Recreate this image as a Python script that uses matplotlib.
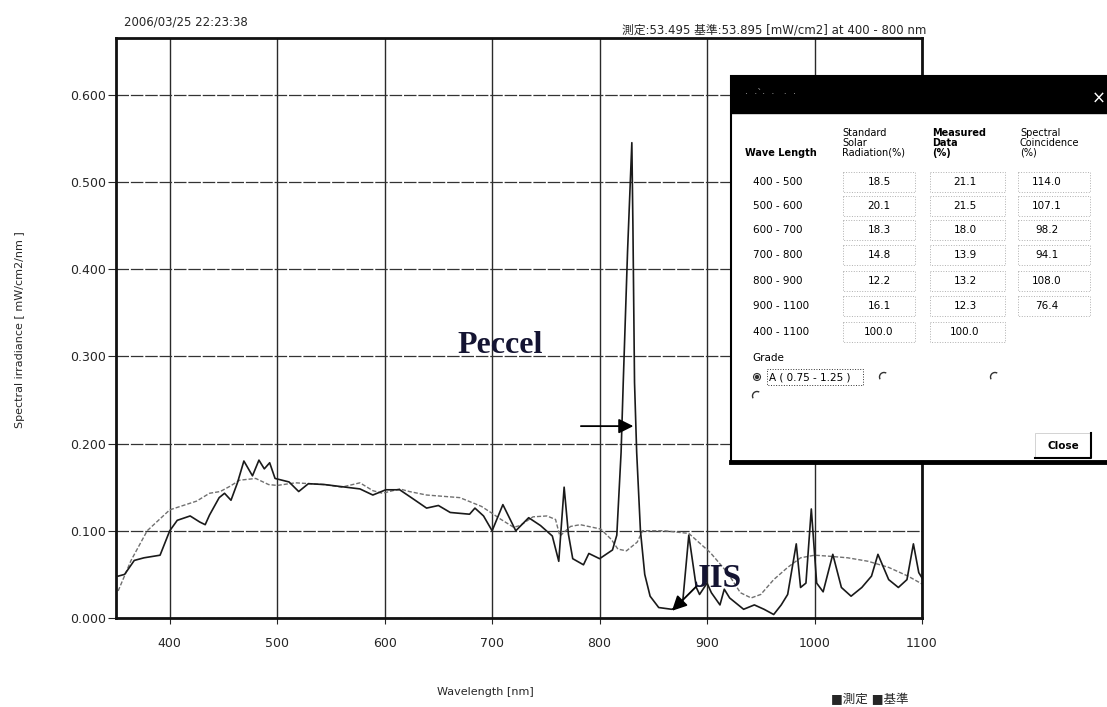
import matplotlib
matplotlib.use('Agg')
import matplotlib.pyplot as plt
from matplotlib.patches import Rectangle, Circle, Arc

# measured spectrum (測定), nm / mW/cm2/nm
meas_nm = [352, 358, 367, 376, 391, 400, 407, 419, 428, 433, 437, 446, 451, 457, 463,
           469, 477, 483, 488, 493, 498, 511, 520, 529, 544, 577, 589, 601, 614, 626,
           639, 650, 661, 679, 684, 692, 700, 710, 722, 734, 745, 756, 762, 767, 771,
           775, 785, 790, 800, 812, 816, 820, 822, 826, 830, 831, 832.5, 834.5, 838, 842,
           847, 855, 867, 877, 883, 890, 893, 900, 904, 912, 916, 921, 934, 944, 953,
           962, 969, 975, 983, 987, 992, 997, 1002, 1008, 1017, 1025, 1034, 1044, 1053, 1059,
           1069, 1078, 1086, 1092, 1097, 1100]
meas_val = [0.048, 0.050, 0.066, 0.069, 0.072, 0.100, 0.112, 0.117, 0.110, 0.107, 0.118, 0.138, 0.143, 0.135, 0.155,
            0.180, 0.163, 0.181, 0.171, 0.178, 0.160, 0.156, 0.145, 0.154, 0.153, 0.148, 0.141, 0.147, 0.147, 0.137,
            0.126, 0.129, 0.121, 0.119, 0.126, 0.117, 0.100, 0.130, 0.100, 0.115, 0.106, 0.094, 0.065, 0.150, 0.096,
            0.068, 0.061, 0.074, 0.068, 0.078, 0.095, 0.190, 0.270, 0.420, 0.545, 0.450, 0.270, 0.190, 0.100, 0.050,
            0.025, 0.012, 0.010, 0.014, 0.095, 0.035, 0.027, 0.040, 0.029, 0.015, 0.033, 0.023, 0.010, 0.015, 0.010,
            0.004, 0.015, 0.027, 0.085, 0.035, 0.040, 0.125, 0.040, 0.030, 0.073, 0.035, 0.025, 0.035, 0.048, 0.073,
            0.044, 0.035, 0.044, 0.085, 0.052, 0.046]

# reference spectrum (基準, JIS)
ref_nm = [352, 364, 379, 400, 425, 437, 447, 456, 465, 480, 492, 500, 517, 544, 560,
          577, 589, 598, 614, 623, 639, 670, 690, 700, 707, 720, 726, 738, 751, 759,
          763, 773, 782, 801, 811, 817, 825, 835, 840, 860, 883, 903, 919, 931, 941,
          950, 962, 975, 987, 1000, 1012, 1031, 1050, 1069, 1087, 1100]
ref_val = [0.031, 0.066, 0.100, 0.124, 0.134, 0.143, 0.145, 0.151, 0.158, 0.160, 0.153, 0.152, 0.155, 0.153, 0.150,
           0.155, 0.146, 0.143, 0.148, 0.145, 0.141, 0.138, 0.128, 0.120, 0.114, 0.104, 0.106, 0.116, 0.117, 0.113,
           0.094, 0.105, 0.107, 0.102, 0.090, 0.079, 0.077, 0.087, 0.100, 0.100, 0.097, 0.075, 0.052, 0.029, 0.023,
           0.027, 0.044, 0.058, 0.069, 0.072, 0.071, 0.069, 0.065, 0.058, 0.048, 0.039]

x_ticks = [400, 500, 600, 700, 800, 900, 1000, 1100]
y_ticks = [0.0, 0.1, 0.2, 0.3, 0.4, 0.5, 0.6]

# dialog table
band_labels = ['400 - 500', '500 - 600', '600 - 700', '700 - 800', '800 - 900', '900 - 1100', '400 - 1100']
std_pct = ['18.5', '20.1', '18.3', '14.8', '12.2', '16.1', '100.0']
meas_pct = ['21.1', '21.5', '18.0', '13.9', '13.2', '12.3', '100.0']
coin_pct = ['114.0', '107.1', '98.2', '94.1', '108.0', '76.4']

plt.rcParams['font.family'] = ['DejaVu Sans', 'Noto Sans CJK JP']

W, H = 1107, 707
ink = '#262626'

def fxy(x, y):
    return x / W, 1 - y / H

fig = plt.figure(figsize=(W / 100, H / 100), dpi=100)
ax = fig.add_axes([116 / W, 1 - 618 / H, (922 - 116) / W, (618 - 38) / H])

ax.plot(ref_nm, ref_val, color='#707070', lw=1.0, ls=(0, (3, 1.4)))
ax.plot(meas_nm, meas_val, color='#1a1a1a', lw=1.2)

ax.set_xlim(350, 1100)
ax.set_ylim(0, 0.665)
ax.set_xticks(x_ticks)
ax.set_yticks(y_ticks)
ax.set_yticklabels(['%.3f' % v for v in y_ticks])
ax.xaxis.grid(True, color='#2a2a2a', lw=1.0)
ax.yaxis.grid(True, color='#333333', lw=0.9, ls=(0, (10, 1.5)))
ax.tick_params(axis='y', length=6, width=0.8, pad=1, labelsize=9, colors=ink)
ax.tick_params(axis='x', length=4, width=0.8, pad=10, labelsize=9, colors=ink)
for s in ax.spines.values():
    s.set_linewidth(2)
    s.set_color('#111')

# hand annotations
ax.text(707, 0.313, 'Peccel', family='Liberation Serif', weight='bold', size=23,
        color='#141432', ha='center', va='center')
ax.annotate('', xy=(834, 0.220), xytext=(780, 0.220),
            arrowprops=dict(arrowstyle='-|>', color='black', lw=1.3, mutation_scale=22))
ax.text(910, 0.045, 'JIS', family='Liberation Serif', weight='bold', size=24,
        color='#141432', ha='center', va='center')
ax.annotate('', xy=(865.5, 0.006), xytext=(891.5, 0.038),
            arrowprops=dict(arrowstyle='-|>', color='black', lw=1.3, mutation_scale=22))

# texts around the chart
fig.text(*fxy(124, 22), '2006/03/25 22:23:38', fontsize=8.5, color=ink, va='center')
fig.text(*fxy(926, 30), '測定:53.495 基準:53.895 [mW/cm2] at 400 - 800 nm', fontsize=8.5,
         color=ink, ha='right', va='center')
fig.text(*fxy(20, 330), 'Spectral irradiance [ mW/cm2/nm ]', fontsize=8, color=ink,
         rotation=90, ha='center', va='center')
fig.text(*fxy(485, 692), 'Wavelength [nm]', fontsize=8, color=ink, ha='center', va='center')
fig.text(*fxy(870, 700), '■測定 ■基準', fontsize=9, color=ink, ha='center', va='center')

# dialog window drawn on top, in pixel coordinates
ov = fig.add_axes([0, 0, 1, 1], zorder=5)
ov.set_xlim(0, W)
ov.set_ylim(H, 0)
ov.axis('off')
ov.patch.set_alpha(0)

ov.add_patch(Rectangle((731, 76), 400, 387, facecolor='white', edgecolor='black', lw=1.5))
ov.add_patch(Rectangle((731, 76), 400, 37, facecolor='black', edgecolor='black'))
ov.plot([731, W], [462, 462], color='black', lw=3.5)
ov.text(745, 94, '·  ·`·  ·   ·  ·', color='#9a9a9a', fontsize=7, va='center')
ov.text(1099, 99, '×', color='white', fontsize=12, ha='center', va='center')

hs = 7
ov.text(745, 153, 'Wave Length', fontsize=hs, weight='bold', va='center')
ov.text(842, 143, 'Standard\nSolar\nRadiation(%)', fontsize=hs, va='center', linespacing=0.95)
ov.text(932, 143, 'Measured\nData\n(%)', fontsize=hs, weight='bold', va='center', linespacing=0.95)
ov.text(1020, 143, 'Spectral\nCoincidence\n(%)', fontsize=hs, va='center', linespacing=0.95)

row_y = [182, 206, 230, 255, 281, 306, 332]
for i, yy in enumerate(row_y):
    ov.text(753, yy, band_labels[i], fontsize=7.5, va='center')
    ov.add_patch(Rectangle((843, yy - 10), 72, 20, fill=False, edgecolor='#b0b0b0', lw=0.7, ls=':'))
    ov.text(879, yy, std_pct[i], fontsize=7.5, ha='center', va='center')
    ov.add_patch(Rectangle((930, yy - 10), 75, 20, fill=False, edgecolor='#b0b0b0', lw=0.7, ls=':'))
    ov.text(965, yy, meas_pct[i], fontsize=7.5, ha='center', va='center')
    if i < len(coin_pct):
        ov.add_patch(Rectangle((1018, yy - 10), 72, 20, fill=False, edgecolor='#b0b0b0', lw=0.7, ls=':'))
        ov.text(1047, yy, coin_pct[i], fontsize=7.5, ha='center', va='center')

ov.text(752, 358, 'Grade', fontsize=7.5, va='center')
ov.add_patch(Circle((757, 377), 3.5, fill=False, edgecolor='#333', lw=0.8))
ov.add_patch(Circle((757, 377), 1.5, color='#333'))
ov.add_patch(Rectangle((767, 369), 96, 16, fill=False, edgecolor='#333', lw=0.7, ls=':'))
ov.text(769, 377, 'A ( 0.75 - 1.25 )', fontsize=7.5, va='center')
for cx, cy in [(884, 377), (995, 377), (757, 396)]:
    ov.add_patch(Arc((cx, cy), 9, 9, theta1=150, theta2=300, edgecolor='#333', lw=1.0))

ov.add_patch(Rectangle((1035, 433), 56, 25, facecolor='white', edgecolor='#cccccc', lw=0.6))
ov.plot([1035, 1091, 1091], [458, 458, 433], color='black', lw=1.5)
ov.text(1063, 446, 'Close', fontsize=7.5, weight='bold', ha='center', va='center')

fig.savefig('out.png', dpi=100)
